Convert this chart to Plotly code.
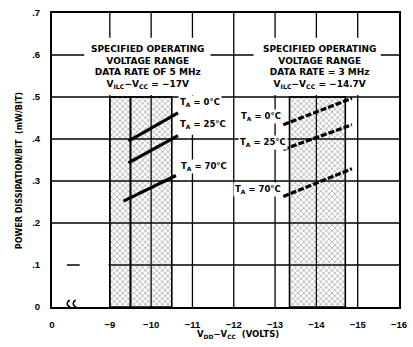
import plotly.graph_objects as go

# ---- data -------------------------------------------------------------
# x axis is broken between 0 and -9 V; "0" is drawn at this axis position
ZERO_POS = -7.6
x_tick_vals = [-9, -10, -11, -12, -13, -14, -15, -16]
x_tick_text = ["\u22129", "\u221210", "\u221211", "\u221212", "\u221213", "\u221214", "\u221215", "\u221216"]
y_tick_vals = [0, 0.1, 0.2, 0.3, 0.4, 0.5, 0.6, 0.7]
y_tick_text = ["0", ".1", ".2", ".3", ".4", ".5", ".6", ".7"]

# specified operating voltage ranges (V), shaded up to BAND_TOP
spec_ranges = [(-9.0, -9.5), (-9.5, -10.5), (-13.35, -14.7)]
BAND_TOP = 0.5

# 5 MHz data rate, VILC-VCC = -17 V
v_5mhz = [-9.45, -10.65]
p_5mhz_0c = [0.395, 0.462]
p_5mhz_25c = [0.343, 0.408]
v_5mhz_70 = [-9.33, -10.6]
p_5mhz_70c = [0.252, 0.313]

# 3 MHz data rate, VILC-VCC = -14.7 V
v_3mhz = [-13.2, -14.86]
p_3mhz_0c = [0.434, 0.497]
p_3mhz_25c = [0.375, 0.434]
p_3mhz_70c = [0.263, 0.329]

BOLD = "DejaVu Sans"
Y_MAX = 0.7
X_MAX = -16

fig = go.Figure()

# shaded operating ranges
fig.add_trace(go.Bar(
    x=[(a + b) / 2 for a, b in spec_ranges],
    y=[BAND_TOP] * len(spec_ranges),
    width=[abs(b - a) for a, b in spec_ranges],
    base=0,
    marker=dict(
        color="rgba(255,255,255,0)",
        line=dict(color="black", width=1.6),
        pattern=dict(shape="x", size=4, solidity=0.35, fgcolor="#555555", fillmode="overlay"),
    ),
    showlegend=False, hoverinfo="skip",
))

# temperature curves
for v, p in [(v_5mhz, p_5mhz_0c), (v_5mhz, p_5mhz_25c), (v_5mhz_70, p_5mhz_70c)]:
    fig.add_trace(go.Scatter(x=v, y=p, mode="lines",
                             line=dict(color="black", width=3.2), showlegend=False))
for p in [p_3mhz_0c, p_3mhz_25c, p_3mhz_70c]:
    fig.add_trace(go.Scatter(x=v_3mhz, y=p, mode="lines",
                             line=dict(color="black", width=3.2, dash="6px,2px"), showlegend=False))

shapes = []
# grid, beneath the data
for xv in x_tick_vals:
    if xv != X_MAX:
        shapes.append(dict(type="line", xref="x", yref="y", x0=xv, x1=xv, y0=0, y1=Y_MAX,
                           line=dict(color="black", width=1.3), layer="below"))
for yv in y_tick_vals:
    if 0 < yv < Y_MAX:
        shapes.append(dict(type="line", xref="x", yref="y", x0=ZERO_POS, x1=X_MAX, y0=yv, y1=yv,
                           line=dict(color="black", width=1.3), layer="below"))
# white panels behind the range captions
shapes.append(dict(type="rect", xref="x", yref="y", x0=-8.38, x1=-11.44, y0=0.505, y1=0.641,
                   fillcolor="white", line=dict(width=0), layer="above"))
shapes.append(dict(type="rect", xref="x", yref="y", x0=-12.48, x1=-15.56, y0=0.505, y1=0.641,
                   fillcolor="white", line=dict(width=0), layer="above"))
# clear area behind the 5 MHz curve labels
shapes.append(dict(type="rect", xref="x", yref="y", x0=-10.72, x1=-11.86, y0=0.41, y1=0.495,
                   fillcolor="white", line=dict(width=0), layer="above"))
# broken .1 gridline in the 0..-9 section
for xa, xb in [(ZERO_POS, -7.96), (-8.27, -8.97)]:
    shapes.append(dict(type="line", xref="x", yref="y", x0=xa, x1=xb, y0=0.1, y1=0.1,
                       line=dict(color="white", width=3), layer="above"))
# axis-break squiggles
for dx in (-3, 3):
    shapes.append(dict(type="path", xref="x", yref="y", xsizemode="pixel", ysizemode="pixel",
                       xanchor=-8.1, yanchor=0,
                       path=f"M {dx},-7 Q {dx+5},-3.5 {dx},0 Q {dx-5},3.5 {dx},7",
                       line=dict(color="black", width=1.6)))
fig.update_layout(shapes=shapes)

annotations = []
cap_font = dict(family=BOLD, size=9, color="black", weight="bold")
annotations.append(dict(
    x=-9.9, y=0.572, xref="x", yref="y", showarrow=False, font=cap_font,
    text="SPECIFIED OPERATING<br>VOLTAGE RANGE<br>DATA RATE OF 5 MHz<br>"
         "V<sub>ILC</sub>\u2212V<sub>CC</sub> = \u221217V"))
annotations.append(dict(
    x=-14.08, y=0.572, xref="x", yref="y", showarrow=False, font=cap_font,
    text="SPECIFIED OPERATING<br>VOLTAGE RANGE<br>DATA RATE = 3 MHz<br>"
         "V<sub>ILC</sub>\u2212V<sub>CC</sub> = \u221214.7V"))

lab_font = dict(family=BOLD, size=8.5, color="black", weight="bold")
for x, y, t in [(-10.64, 0.486, "0"), (-10.64, 0.434, "25"), (-10.68, 0.334, "70"),
                (-12.13, 0.453, "0"), (-12.1, 0.391, "25"), (-11.97, 0.279, "70")]:
    annotations.append(dict(x=x, y=y, xref="x", yref="y", xanchor="left", showarrow=False,
                            font=lab_font, bgcolor="white", borderpad=1,
                            text=f"T<sub>A</sub> = {t}\u00b0C"))

annotations.append(dict(
    x=-0.11, y=0.463, xref="paper", yref="paper", showarrow=False, textangle=-90,
    font=dict(family=BOLD, size=8, color="black", weight="bold"),
    text="POWER DISSIPATION/BIT\u00a0\u00a0(mW/BIT)"))
annotations.append(dict(
    x=0.535, y=-0.095, xref="paper", yref="paper", showarrow=False, yanchor="middle",
    font=dict(family=BOLD, size=8.5, color="black", weight="bold"),
    text="V<sub>DD</sub>\u2212V<sub>CC</sub>\u00a0\u00a0(VOLTS)"))
fig.update_layout(annotations=annotations)

tick_font = dict(family="Liberation Sans", size=9.5, color="black", weight="bold")
fig.update_xaxes(
    range=[ZERO_POS, X_MAX],
    tickvals=[ZERO_POS] + x_tick_vals, ticktext=["0"] + x_tick_text,
    showgrid=False, ticklabeloverflow="allow",
    showline=True, linecolor="black", linewidth=2, mirror=True,
    ticks="", tickfont=tick_font, ticklabelstandoff=8, zeroline=False,
)
fig.update_yaxes(
    range=[0, Y_MAX],
    tickvals=y_tick_vals, ticktext=y_tick_text,
    showgrid=False,
    showline=True, linecolor="black", linewidth=2, mirror=True,
    ticks="", tickfont=tick_font, ticklabelstandoff=8, zeroline=False,
)

fig.update_layout(
    width=413, height=347,
    margin=dict(l=52, r=6, t=13, b=40),
    paper_bgcolor="white", plot_bgcolor="white",
    barmode="overlay", showlegend=False,
)

fig.write_html("out.html")
